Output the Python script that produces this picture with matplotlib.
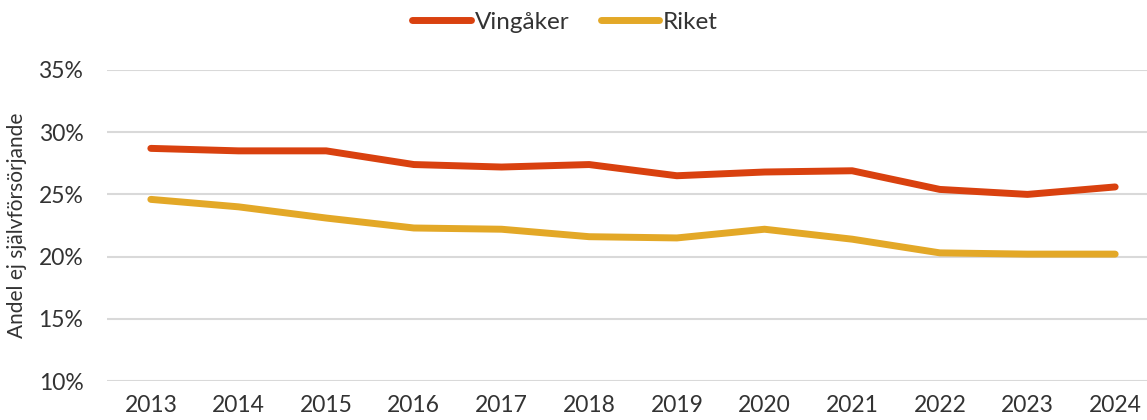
import matplotlib.pyplot as plt
from matplotlib.ticker import FuncFormatter

years = ['2013', '2014', '2015', '2016', '2017', '2018', '2019', '2020', '2021', '2022', '2023', '2024']
vingaker = [28.7, 28.5, 28.5, 27.4, 27.2, 27.4, 26.5, 26.8, 26.9, 25.4, 25.0, 25.6]
riket = [24.6, 24.0, 23.1, 22.3, 22.2, 21.6, 21.5, 22.2, 21.4, 20.3, 20.2, 20.2]

plt.rcParams['font.family'] = ['Lato', 'DejaVu Sans']
text_col = '#333333'

fig = plt.figure(figsize=(11.47, 4.2), dpi=100)
ax = fig.add_axes([107 / 1147, 39 / 420, 1052 / 1147, 311 / 420])

x = range(len(years))
ax.plot(x, vingaker, color='#D9410F', lw=5, solid_capstyle='round', label='Vingåker')
ax.plot(x, riket, color='#E3A827', lw=5, solid_capstyle='round', label='Riket')

ax.set_xlim(-0.5, len(years) - 0.5)
ax.set_ylim(10, 35)
ax.set_yticks([10, 15, 20, 25, 30, 35])
ax.yaxis.set_major_formatter(FuncFormatter(lambda v, p: f'{v:.0f}%'))
ax.set_xticks(list(x))
ax.set_xticklabels(years)
ax.grid(axis='y', color='#D9D9D9', lw=1.5)
ax.set_axisbelow(True)
for s in ax.spines.values():
    s.set_visible(False)
ax.tick_params(length=0, labelsize=16.5, labelcolor=text_col, pad=10)
ax.tick_params(axis='y', pad=17)
ax.set_ylabel('Andel ej självförsörjande', fontsize=15, color=text_col, labelpad=8)

fig.legend(loc='center', bbox_to_anchor=(565 / 1147, 1 - 22 / 420), ncol=2, frameon=False,
           fontsize=17.5, handlelength=2.4, columnspacing=1.3, handletextpad=0.15,
           labelcolor=text_col)

fig.savefig('out.png', dpi=100)
